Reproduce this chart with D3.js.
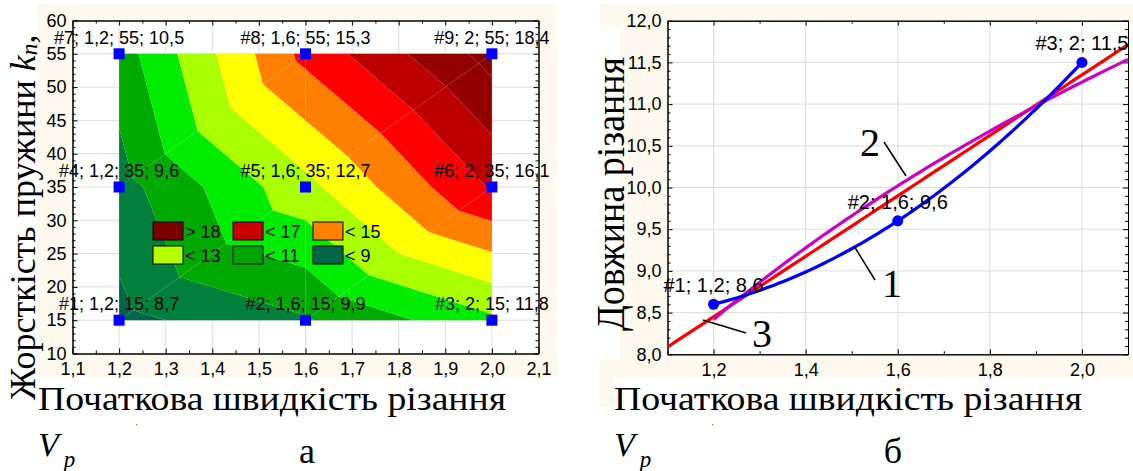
<!DOCTYPE html>
<html>
<head>
<meta charset="utf-8">
<script src="https://cdn.jsdelivr.net/npm/d3@7"></script>
<style>
  html, body { margin: 0; padding: 0; background: #ffffff; }
  svg { display: block; }
  .tick text { font-family: "Liberation Sans", Arial, sans-serif; fill: #000; }
</style>
</head>
<body>
<svg id="fig" width="1133" height="471"></svg>
<script>
// ---------- Panel (а): cutting length over speed × spring stiffness ----------
const speedLevels = [1.2, 1.6, 2.0];
const stiffnessLevels = [15, 35, 55];
// one row per stiffness level, one column per speed level
const lengthRows = [
  [8.7, 9.9, 11.8],
  [9.6, 12.7, 16.1],
  [10.5, 15.3, 18.4]
];
const contourLevels = [9, 10, 11, 12, 13, 14, 15, 16, 17, 18];
const bandColors = ["#00664a", "#00803a", "#00aa00", "#00ec00", "#aaff00", "#ffff00",
                    "#ff8000", "#ff0000", "#bc0000", "#940000", "#880000"];
const legendLabels = ["> 18", "< 17", "< 15", "< 13", "< 11", "< 9"];
const legendColors = ["#7c0000", "#c80000", "#ff8000", "#b4ff00", "#00a400", "#006646"];
const xTicksA = [1.1, 1.2, 1.3, 1.4, 1.5, 1.6, 1.7, 1.8, 1.9, 2.0, 2.1];
const yTicksA = [10, 15, 20, 25, 30, 35, 40, 45, 50, 55, 60];

// ---------- Panel (б): cutting length over speed ----------
const speedsB = [1.2, 1.6, 2.0];
const lengthsB = [8.6, 9.6, 11.5];
const xTicksB = [1.2, 1.4, 1.6, 1.8, 2.0];
const yTicksB = [8.0, 8.5, 9.0, 9.5, 10.0, 10.5, 11.0, 11.5, 12.0];

const locale = d3.formatLocale({decimal: ",", thousands: " ", grouping: [3], currency: ["", ""]});
const f1 = locale.format(".1f");
const f0 = locale.format("d");
const plain = v => String(v).replace(".", ",");

const svg = d3.select("#fig");
const SANS = "'Liberation Sans', Arial, sans-serif";
const SERIF = "'Liberation Serif', 'Times New Roman', serif";

// page backgrounds of the two graph images
svg.append("rect").attr("x", 37).attr("y", 4).attr("width", 520).attr("height", 373).attr("fill", "#fdf9ef");
svg.append("rect").attr("x", 600).attr("y", 4).attr("width", 533).attr("height", 403).attr("fill", "#fdf9ef");
svg.append("rect").attr("x", 588).attr("y", 27).attr("width", 32).attr("height", 333).attr("fill", "#fff");
svg.append("rect").attr("x", 615).attr("y", 377).attr("width", 518).attr("height", 94).attr("fill", "#fff");

// ================= Panel (а) =================
const xA = d3.scaleLinear().domain([1.1, 2.1]).range([72.5, 538.5]);
const yA = d3.scaleLinear().domain([10, 60]).range([353.5, 20.5]);
const gA = svg.append("g");

gA.append("rect").attr("x", xA(1.1)).attr("y", yA(60))
  .attr("width", xA(2.1) - xA(1.1)).attr("height", yA(10) - yA(60)).attr("fill", "#fff");

// grid
gA.append("g").selectAll("line").data(xTicksA.slice(1, -1)).join("line")
  .attr("x1", d => xA(d)).attr("x2", d => xA(d)).attr("y1", yA(60)).attr("y2", yA(10))
  .attr("stroke", "#dcdcdc").attr("stroke-width", 1);
gA.append("g").selectAll("line").data(yTicksA.slice(1, -1)).join("line")
  .attr("y1", d => yA(d)).attr("y2", d => yA(d)).attr("x1", xA(1.1)).attr("x2", xA(2.1))
  .attr("stroke", "#dcdcdc").attr("stroke-width", 1);

// piecewise-linear surface: each grid cell split along its rising diagonal
function clip(poly, level, keepAbove) {
  const out = [];
  for (let i = 0; i < poly.length; i++) {
    const a = poly[i], b = poly[(i + 1) % poly.length];
    const ina = keepAbove ? a.v >= level : a.v <= level;
    const inb = keepAbove ? b.v >= level : b.v <= level;
    if (ina) out.push(a);
    if (ina !== inb) {
      const t = (level - a.v) / (b.v - a.v);
      out.push({x: a.x + t * (b.x - a.x), y: a.y + t * (b.y - a.y), v: level});
    }
  }
  return out;
}
const triangles = [];
for (let j = 0; j < stiffnessLevels.length - 1; j++) {
  for (let i = 0; i < speedLevels.length - 1; i++) {
    const node = (ii, jj) => ({x: speedLevels[ii], y: stiffnessLevels[jj], v: lengthRows[jj][ii]});
    const bl = node(i, j), br = node(i + 1, j), tl = node(i, j + 1), tr = node(i + 1, j + 1);
    triangles.push([bl, br, tr], [bl, tr, tl]);
  }
}
const bandPolys = [];
triangles.forEach(tri => {
  for (let b = 0; b <= contourLevels.length; b++) {
    let p = tri;
    if (b > 0) p = clip(p, contourLevels[b - 1], true);
    if (p.length && b < contourLevels.length) p = clip(p, contourLevels[b], false);
    if (p.length >= 3) bandPolys.push({band: b, pts: p});
  }
});
gA.append("g").selectAll("path").data(bandPolys).join("path")
  .attr("d", d => "M" + d.pts.map(p => xA(p.x) + "," + yA(p.y)).join("L") + "Z")
  .attr("fill", d => bandColors[d.band]);

// axes (ticks pointing inward on all four sides)
function styleAxis(g, size) {
  g.select(".domain").attr("stroke", "#000");
  g.selectAll(".tick line").attr("stroke", "#000");
  g.selectAll(".tick text").attr("font-size", size).attr("font-family", SANS);
}
const minorXA = d3.range(1.15, 2.1, 0.1);
const minorYA = d3.range(11, 60, 1).filter(v => v % 5 !== 0);
gA.append("g").attr("transform", `translate(0,${yA(10)})`)
  .call(d3.axisBottom(xA).tickValues(xTicksA).tickFormat(f1).tickSize(-5).tickSizeOuter(0).tickPadding(9))
  .call(g => styleAxis(g, 18));
gA.append("g").attr("transform", `translate(0,${yA(10)})`)
  .call(d3.axisBottom(xA).tickValues(minorXA).tickFormat("").tickSize(-3).tickSizeOuter(0))
  .call(g => styleAxis(g, 18));
gA.append("g").attr("transform", `translate(0,${yA(60)})`)
  .call(d3.axisTop(xA).tickValues(xTicksA).tickFormat("").tickSize(-5).tickSizeOuter(0))
  .call(g => styleAxis(g, 18));
gA.append("g").attr("transform", `translate(0,${yA(60)})`)
  .call(d3.axisTop(xA).tickValues(minorXA).tickFormat("").tickSize(-3).tickSizeOuter(0))
  .call(g => styleAxis(g, 18));
gA.append("g").attr("transform", `translate(${xA(1.1)},0)`)
  .call(d3.axisLeft(yA).tickValues(yTicksA).tickFormat(f0).tickSize(-5).tickSizeOuter(0).tickPadding(6))
  .call(g => styleAxis(g, 18));
gA.append("g").attr("transform", `translate(${xA(1.1)},0)`)
  .call(d3.axisLeft(yA).tickValues(minorYA).tickFormat("").tickSize(-3).tickSizeOuter(0))
  .call(g => styleAxis(g, 18));
gA.append("g").attr("transform", `translate(${xA(2.1)},0)`)
  .call(d3.axisRight(yA).tickValues(yTicksA).tickFormat("").tickSize(-5).tickSizeOuter(0))
  .call(g => styleAxis(g, 18));
gA.append("g").attr("transform", `translate(${xA(2.1)},0)`)
  .call(d3.axisRight(yA).tickValues(minorYA).tickFormat("").tickSize(-3).tickSizeOuter(0))
  .call(g => styleAxis(g, 18));

// legend
const legW = 30, legH = 18;
const legG = gA.append("g");
legendLabels.forEach((lab, i) => {
  const col = i % 3, row = Math.floor(i / 3);
  const x0 = 153 + col * 80, y0 = 222 + row * 24;
  legG.append("rect").attr("x", x0).attr("y", y0).attr("width", legW).attr("height", legH)
    .attr("fill", legendColors[i]).attr("stroke", "#000").attr("stroke-width", 1);
  legG.append("text").attr("x", x0 + legW + 2).attr("y", y0 + 16).text(lab)
    .attr("font-family", SANS).attr("font-size", 18).attr("fill", "#000");
});

// data points and their labels
const pointsA = [];
stiffnessLevels.forEach((k, j) => speedLevels.forEach((v, i) => {
  pointsA.push({n: pointsA.length + 1, v, k, val: lengthRows[j][i]});
}));
gA.append("g").selectAll("rect").data(pointsA).join("rect")
  .attr("x", d => xA(d.v) - 5.5).attr("y", d => yA(d.k) - 5.5).attr("width", 11).attr("height", 11)
  .attr("fill", "#0000ff");
gA.append("g").selectAll("text").data(pointsA).join("text")
  .attr("x", d => xA(d.v)).attr("y", d => yA(d.k) - 10).attr("text-anchor", "middle")
  .attr("font-family", SANS).attr("font-size", 18).attr("fill", "#000")
  .text(d => `#${d.n}; ${plain(d.v)}; ${d.k}; ${plain(d.val)}`);

// ================= Panel (б) =================
const xB = d3.scaleLinear().domain([1.1, 2.1]).range([667.5, 1128]);
const yB = d3.scaleLinear().domain([8, 12]).range([354.3, 20.7]);
const gB = svg.append("g");
gB.append("rect").attr("x", xB(1.1)).attr("y", yB(12))
  .attr("width", xB(2.1) - xB(1.1)).attr("height", yB(8) - yB(12)).attr("fill", "#fff");
gB.append("g").selectAll("line").data(xTicksB).join("line")
  .attr("x1", d => xB(d)).attr("x2", d => xB(d)).attr("y1", yB(12)).attr("y2", yB(8))
  .attr("stroke", "#dcdcdc");
gB.append("g").selectAll("line").data(yTicksB.slice(1, -1)).join("line")
  .attr("y1", d => yB(d)).attr("y2", d => yB(d)).attr("x1", xB(1.1)).attr("x2", xB(2.1))
  .attr("stroke", "#dcdcdc");

const minorXB = [1.1, 1.3, 1.5, 1.7, 1.9, 2.1];
const minorYB = d3.range(8.1, 12, 0.1).filter(v => Math.abs(v * 2 - Math.round(v * 2)) > 0.01);
gB.append("g").attr("transform", `translate(0,${yB(8)})`)
  .call(d3.axisBottom(xB).tickValues(xTicksB).tickFormat(f1).tickSize(-5).tickSizeOuter(0).tickPadding(9))
  .call(g => styleAxis(g, 18));
gB.append("g").attr("transform", `translate(0,${yB(8)})`)
  .call(d3.axisBottom(xB).tickValues(minorXB).tickFormat("").tickSize(-3).tickSizeOuter(0))
  .call(g => styleAxis(g, 18));
gB.append("g").attr("transform", `translate(0,${yB(12)})`)
  .call(d3.axisTop(xB).tickValues(xTicksB).tickFormat("").tickSize(-5).tickSizeOuter(0))
  .call(g => styleAxis(g, 18));
gB.append("g").attr("transform", `translate(0,${yB(12)})`)
  .call(d3.axisTop(xB).tickValues(minorXB).tickFormat("").tickSize(-3).tickSizeOuter(0))
  .call(g => styleAxis(g, 18));
gB.append("g").attr("transform", `translate(${xB(1.1)},0)`)
  .call(d3.axisLeft(yB).tickValues(yTicksB).tickFormat(f1).tickSize(-5).tickSizeOuter(0).tickPadding(6))
  .call(g => styleAxis(g, 18));
gB.append("g").attr("transform", `translate(${xB(1.1)},0)`)
  .call(d3.axisLeft(yB).tickValues(minorYB).tickFormat("").tickSize(-3).tickSizeOuter(0))
  .call(g => styleAxis(g, 18));
gB.append("g").attr("transform", `translate(${xB(2.1)},0)`)
  .call(d3.axisRight(yB).tickValues(yTicksB).tickFormat("").tickSize(-5).tickSizeOuter(0))
  .call(g => styleAxis(g, 18));
gB.append("g").attr("transform", `translate(${xB(2.1)},0)`)
  .call(d3.axisRight(yB).tickValues(minorYB).tickFormat("").tickSize(-3).tickSizeOuter(0))
  .call(g => styleAxis(g, 18));

// fitted curves
const mx = d3.mean(speedsB), my = d3.mean(lengthsB);
const slope = d3.sum(speedsB, (x, i) => (x - mx) * (lengthsB[i] - my)) / d3.sum(speedsB, x => (x - mx) ** 2);
const linFit = x => my + slope * (x - mx);
const lx = speedsB.map(Math.log), mlx = d3.mean(lx);
const bLog = d3.sum(lx, (x, i) => (x - mlx) * (lengthsB[i] - my)) / d3.sum(lx, x => (x - mlx) ** 2);
const logFit = x => my + bLog * (Math.log(x) - mlx);
const quadFit = x => d3.sum(speedsB, (xi, i) => {
  let w = 1;
  speedsB.forEach((xj, j) => { if (j !== i) w *= (x - xj) / (xi - xj); });
  return w * lengthsB[i];
});
const lineGen = fn => d3.line().x(d => xB(d)).y(d => yB(fn(d)));
svg.append("clipPath").attr("id", "clipB").append("rect")
  .attr("x", xB(1.1)).attr("y", yB(12)).attr("width", xB(2.1) - xB(1.1) + 2).attr("height", yB(8) - yB(12));
const curves = gB.append("g").attr("clip-path", "url(#clipB)");
curves.append("path").attr("d", lineGen(linFit)(d3.range(1.1, 2.1001, 0.01)))
  .attr("fill", "none").attr("stroke", "#ff0000").attr("stroke-width", 3.2);
curves.append("path").attr("d", lineGen(logFit)(d3.range(1.2, 2.1001, 0.01)))
  .attr("fill", "none").attr("stroke", "#cc00cc").attr("stroke-width", 3.2);
curves.append("path").attr("d", lineGen(quadFit)(d3.range(1.2, 2.0001, 0.01)))
  .attr("fill", "none").attr("stroke", "#0000ff").attr("stroke-width", 3.2);
gB.append("g").selectAll("circle").data(speedsB).join("circle")
  .attr("cx", d => xB(d)).attr("cy", (d, i) => yB(lengthsB[i])).attr("r", 5.5).attr("fill", "#0000ff");
gB.append("g").selectAll("text").data(speedsB).join("text")
  .attr("x", d => xB(d)).attr("y", (d, i) => yB(lengthsB[i]) - 12).attr("text-anchor", "middle")
  .attr("font-family", SANS).attr("font-size", 20).attr("fill", "#000")
  .text((d, i) => `#${i + 1}; ${plain(d)}; ${plain(lengthsB[i])}`);

// curve callouts
const callouts = [
  {t: "1", x: 882, y: 297, x1: 854, y1: 246, x2: 875, y2: 280},
  {t: "2", x: 860, y: 156, x1: 884, y1: 142, x2: 906, y2: 176},
  {t: "3", x: 752, y: 347, x1: 703, y1: 320, x2: 746, y2: 333}
];
callouts.forEach(c => {
  svg.append("line").attr("x1", c.x1).attr("y1", c.y1).attr("x2", c.x2).attr("y2", c.y2)
    .attr("stroke", "#000").attr("stroke-width", 1.5);
  svg.append("text").attr("x", c.x).attr("y", c.y).text(c.t)
    .attr("font-family", SERIF).attr("font-size", 40).attr("fill", "#000");
});

// ================= titles =================
function yTitle(x, y, size, main, italic, sub, span) {
  const t = svg.append("text").attr("transform", `translate(${x},${y}) rotate(-90)`)
    .attr("font-family", SERIF).attr("font-size", size).attr("fill", "#000");
  if (italic) {
    t.append("tspan").text(main);
    t.append("tspan").attr("font-style", "italic").text(italic);
    t.append("tspan").attr("font-style", "italic").attr("font-size", size * 0.65).attr("dy", 2).text(sub);
    t.append("tspan").attr("dy", -2).text(",");
  } else {
    t.text(main).attr("textLength", span).attr("lengthAdjust", "spacingAndGlyphs");
  }
}
yTitle(35, 400, 36, "Жорсткість пружини ", "k", "n");
yTitle(624, 331, 39, "Довжина різання", null, null, 274);

function xTitle(x, letterX, letter) {
  svg.append("text").attr("x", x).attr("y", 410).text("Початкова швидкість різання")
    .attr("font-family", SERIF).attr("font-size", 33).attr("fill", "#000")
    .attr("textLength", 468).attr("lengthAdjust", "spacingAndGlyphs");
  const v = svg.append("text").attr("x", x).attr("y", 456)
    .attr("font-family", SERIF).attr("font-size", 34).attr("font-style", "italic").attr("fill", "#000");
  v.append("tspan").text("V");
  v.append("tspan").attr("font-size", 23).attr("dy", 11).attr("dx", 5).text("p");
  svg.append("text").attr("x", x + 98).attr("y", 430).text("'")
    .attr("font-family", SERIF).attr("font-size", 8).attr("fill", "#000");
  svg.append("text").attr("x", letterX).attr("y", 463).attr("text-anchor", "middle").text(letter)
    .attr("font-family", SERIF).attr("font-size", 36).attr("fill", "#000");
}
xTitle(38, 307, "а");
xTitle(614, 893, "б");
</script>
</body>
</html>
